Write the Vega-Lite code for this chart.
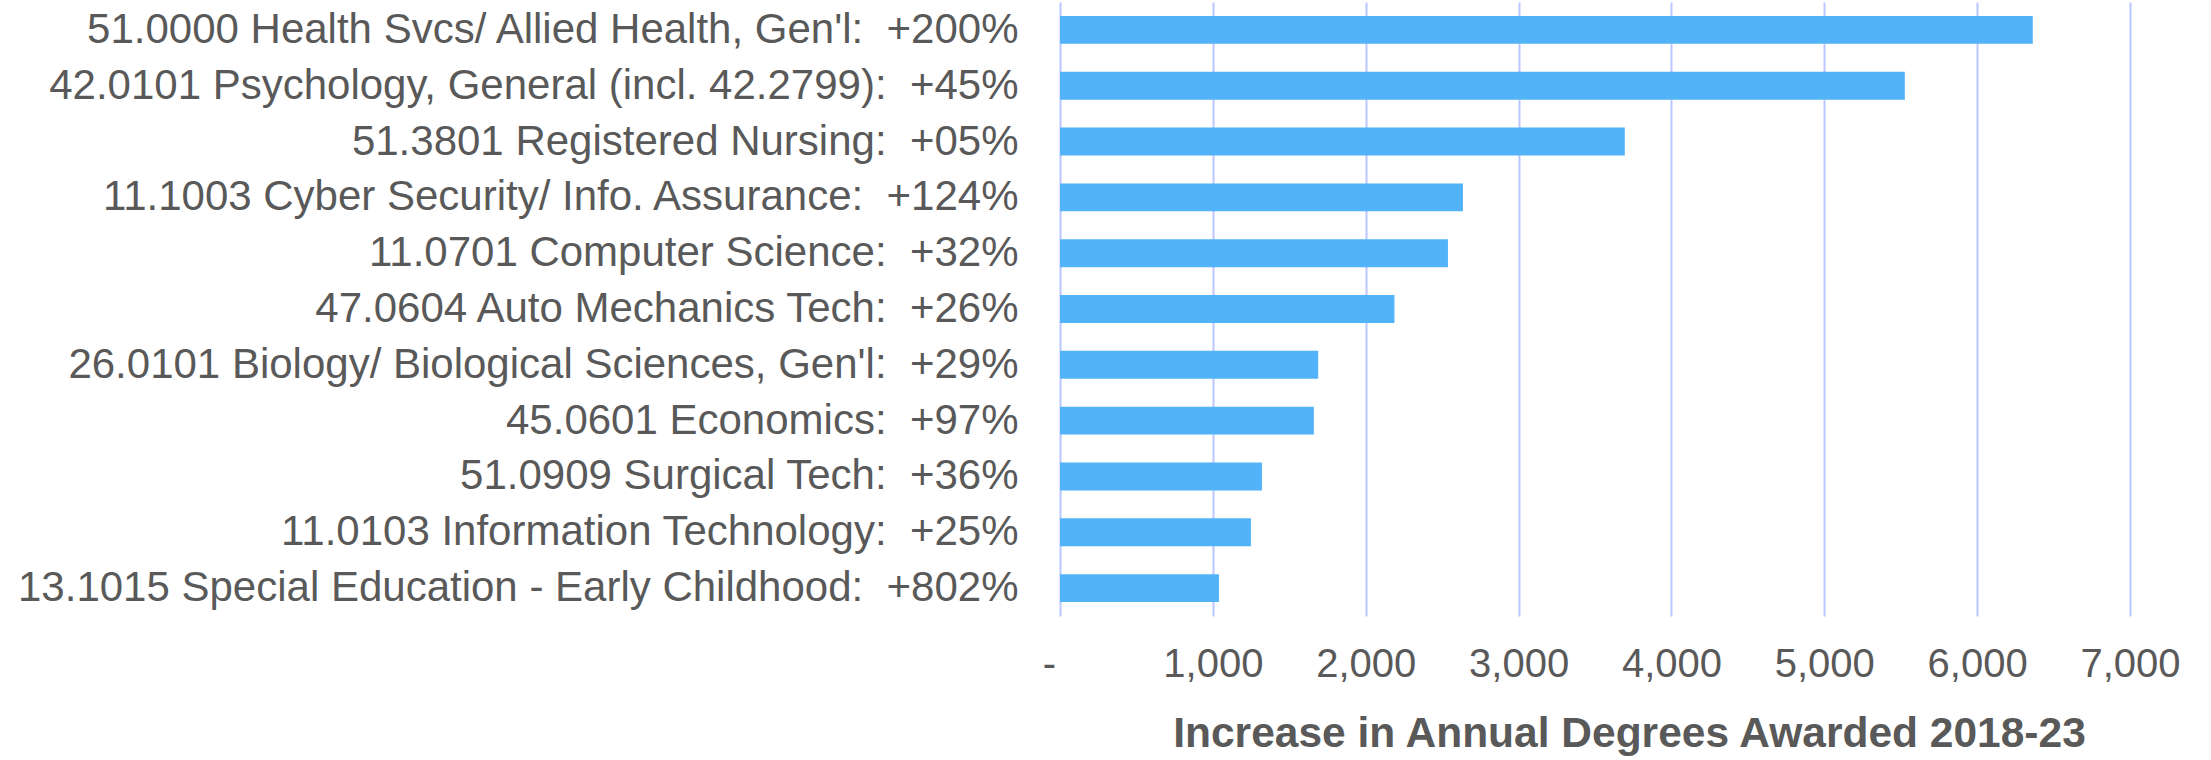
{
  "$schema": "https://vega.github.io/schema/vega-lite/v6.json",
  "width": 1070,
  "height": 614,
  "autosize": {"type": "none"},
  "padding": {"left": 1060, "top": 2, "right": 81, "bottom": 144},
  "background": "white",
  "data": {
    "values": [
      {"program": "51.0000 Health Svcs/ Allied Health, Gen'l:\u00a0 +200%", "increase": 6364},
      {"program": "42.0101 Psychology, General (incl. 42.2799):\u00a0 +45%", "increase": 5527},
      {"program": "51.3801 Registered Nursing:\u00a0 +05%", "increase": 3695},
      {"program": "11.1003 Cyber Security/ Info. Assurance:\u00a0 +124%", "increase": 2636},
      {"program": "11.0701 Computer Science:\u00a0 +32%", "increase": 2538},
      {"program": "47.0604 Auto Mechanics Tech:\u00a0 +26%", "increase": 2188},
      {"program": "26.0101 Biology/ Biological Sciences, Gen'l:\u00a0 +29%", "increase": 1689},
      {"program": "45.0601 Economics:\u00a0 +97%", "increase": 1661},
      {"program": "51.0909 Surgical Tech:\u00a0 +36%", "increase": 1321},
      {"program": "11.0103 Information Technology:\u00a0 +25%", "increase": 1249},
      {"program": "13.1015 Special Education - Early Childhood:\u00a0 +802%", "increase": 1040}
    ]
  },
  "mark": {"type": "bar", "color": "#53B3F8"},
  "encoding": {
    "y": {
      "field": "program",
      "type": "nominal",
      "sort": null,
      "scale": {"paddingInner": 0.5, "paddingOuter": 0.25},
      "axis": {
        "title": null,
        "domain": false,
        "ticks": false,
        "grid": false,
        "labelFontSize": 42,
        "labelColor": "#595959",
        "labelFont": "Liberation Sans",
        "labelPadding": 42,
        "labelLimit": 1200
      }
    },
    "x": {
      "field": "increase",
      "type": "quantitative",
      "scale": {"domain": [0, 7000], "nice": false},
      "axis": {
        "values": [0, 1000, 2000, 3000, 4000, 5000, 6000, 7000],
        "labelExpr": "datum.value == 0 ? '-' : format(datum.value, ',')",
        "labelFlush": false,
        "labelOverlap": false,
        "labelOffset": {"condition": {"test": "datum.value == 0", "value": -11}, "value": 0},
        "title": "Increase in Annual Degrees Awarded 2018-23",
        "titleFontSize": 42.5,
        "titleFont": "Liberation Sans",
        "titleColor": "#595959",
        "titleFontWeight": "bold",
        "titlePadding": 28,
        "titleX": 569,
        "titleAnchor": "middle",
        "labelFontSize": 40,
        "labelFont": "Liberation Sans",
        "labelColor": "#595959",
        "labelPadding": 28,
        "domain": false,
        "ticks": false,
        "grid": true,
        "gridColor": "#B9C6FF",
        "gridWidth": 2
      }
    }
  },
  "config": {"view": {"stroke": null}}
}
